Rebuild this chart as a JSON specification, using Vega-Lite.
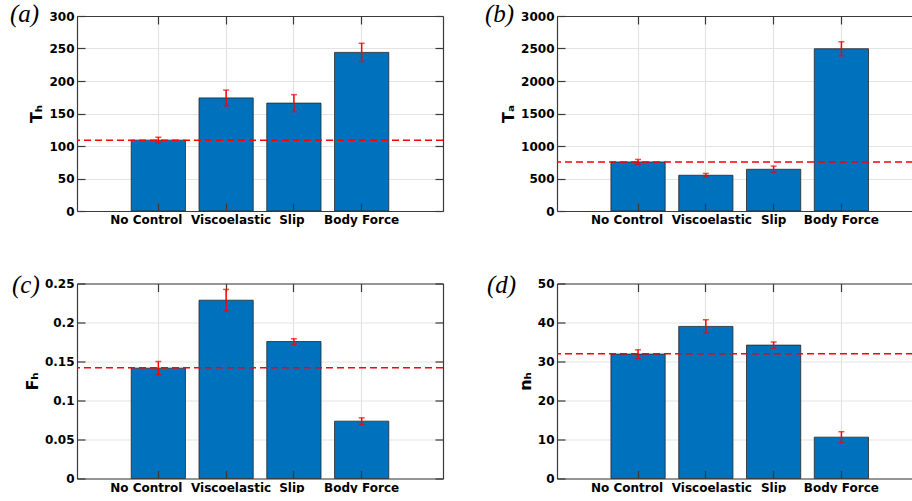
{
  "$schema": "https://vega.github.io/schema/vega-lite/v6.json",
  "background": "white",
  "padding": {"left": 10, "top": 2, "right": 0, "bottom": 0},
  "columns": 2,
  "spacing": {"column": 41, "row": 46.5},
  "config": {
    "view": {"stroke": null},
    "axis": {
      "domainColor": "#3a3a3a", "domainWidth": 1.2,
      "tickColor": "#3a3a3a", "tickWidth": 1.2, "tickSize": -8,
      "gridColor": "#e3e3e3", "gridWidth": 1.2,
      "labelFont": "DejaVu Sans", "labelFontWeight": "bold", "labelFontSize": 12, "labelColor": "#000000",
      "titleFont": "DejaVu Sans", "titleFontWeight": "bold", "titleFontSize": 16, "titleColor": "#000000"
    },
    "axisLeft": {"labelPadding": 11},
    "axisBottom": {"labelPadding": 11.5},
    "title": {"font": "Liberation Serif", "fontStyle": "italic", "fontWeight": "normal", "fontSize": 25, "color": "#000000", "anchor": "start", "frame": "group", "offset": 0, "dy": 21}
  },
  "concat": [
    {
      "width": 366, "height": 195,
      "title": {"text": "(a)", "dx": -67},
      "data": {"values": [
        {"cond": "No Control", "val": 109, "err": 4.5},
        {"cond": "Viscoelastic", "val": 174, "err": 12},
        {"cond": "Slip", "val": 166, "err": 13},
        {"cond": "Body Force", "val": 244, "err": 14}
      ]},
      "resolve": {"axis": {"x": "independent", "y": "independent"}},
      "layer": [
        {"mark": {"type": "bar", "color": "#0072BD", "stroke": "#262626", "strokeWidth": 0.8},
         "encoding": {
           "x": {"field": "cond", "type": "nominal", "sort": null,
                 "scale": {"domain": ["No Control", "Viscoelastic", "Slip", "Body Force"], "paddingInner": 0.2, "paddingOuter": 0.8},
                 "axis": {"orient": "bottom", "title": null, "grid": false, "labelAngle": 0, "zindex": 1, "bandPosition": 0.5,
                          "labelOffset": {"condition": [{"test": "datum.value === 'No Control'", "value": -12}, {"test": "datum.value === 'Viscoelastic'", "value": 5}, {"test": "datum.value === 'Slip'", "value": -2}], "value": 0}}},
           "y": {"field": "val", "type": "quantitative", "scale": {"domain": [0, 300], "nice": false},
                 "axis": {"orient": "left", "title": "Tₕ", "grid": true, "values": [0, 50, 100, 150, 200, 250, 300], "format": "~f", "zindex": 0}}
         }},
        {"data": {"values": [{"ref": 109}]},
         "mark": {"type": "rule", "color": "#ff0000", "strokeDash": [7, 4], "strokeWidth": 1.5},
         "encoding": {"y": {"field": "ref", "type": "quantitative", "axis": null}}},
        {"mark": {"type": "errorbar", "color": "#ff0000", "thickness": 1.5, "ticks": {"size": 6}},
         "encoding": {
           "x": {"field": "cond", "type": "nominal", "sort": null,
                 "scale": {"domain": ["No Control", "Viscoelastic", "Slip", "Body Force"], "paddingInner": 0.2, "paddingOuter": 0.8},
                 "axis": {"orient": "top", "labels": false, "title": null, "grid": true, "zindex": 0, "bandPosition": 0.5}},
           "y": {"field": "val", "type": "quantitative", "title": null,
                 "axis": {"orient": "right", "labels": false, "title": null, "grid": false, "values": [0, 50, 100, 150, 200, 250, 300]}},
           "yError": {"field": "err"}
         }}
      ]
    },
    {
      "width": 356, "height": 195,
      "title": {"text": "(b)", "dx": -72},
      "data": {"values": [
        {"cond": "No Control", "val": 755, "err": 38},
        {"cond": "Viscoelastic", "val": 550, "err": 28},
        {"cond": "Slip", "val": 642, "err": 48},
        {"cond": "Body Force", "val": 2496, "err": 108}
      ]},
      "resolve": {"axis": {"x": "independent", "y": "independent"}},
      "layer": [
        {"mark": {"type": "bar", "color": "#0072BD", "stroke": "#262626", "strokeWidth": 0.8},
         "encoding": {
           "x": {"field": "cond", "type": "nominal", "sort": null,
                 "scale": {"domain": ["No Control", "Viscoelastic", "Slip", "Body Force"], "paddingInner": 0.2, "paddingOuter": 0.726, "align": 0.548},
                 "axis": {"orient": "bottom", "title": null, "grid": false, "labelAngle": 0, "zindex": 1, "bandPosition": 0.5,
                          "labelOffset": {"condition": [{"test": "datum.value === 'No Control'", "value": -11}, {"test": "datum.value === 'Viscoelastic'", "value": 6}], "value": 0}}},
           "y": {"field": "val", "type": "quantitative", "scale": {"domain": [0, 3000], "nice": false},
                 "axis": {"orient": "left", "title": "Tₐ", "grid": true, "values": [0, 500, 1000, 1500, 2000, 2500, 3000], "format": "~f", "zindex": 0}}
         }},
        {"data": {"values": [{"ref": 755}]},
         "mark": {"type": "rule", "color": "#ff0000", "strokeDash": [7, 4], "strokeWidth": 1.5},
         "encoding": {"y": {"field": "ref", "type": "quantitative", "axis": null}}},
        {"mark": {"type": "errorbar", "color": "#ff0000", "thickness": 1.5, "ticks": {"size": 6}},
         "encoding": {
           "x": {"field": "cond", "type": "nominal", "sort": null,
                 "scale": {"domain": ["No Control", "Viscoelastic", "Slip", "Body Force"], "paddingInner": 0.2, "paddingOuter": 0.726, "align": 0.548},
                 "axis": {"orient": "top", "labels": false, "title": null, "grid": true, "zindex": 0, "bandPosition": 0.5}},
           "y": {"field": "val", "type": "quantitative", "title": null, "axis": null},
           "yError": {"field": "err"}
         }}
      ]
    },
    {
      "width": 366, "height": 195,
      "title": {"text": "(c)", "dx": -65, "dy": 24},
      "data": {"values": [
        {"cond": "No Control", "val": 0.1415, "err": 0.0085},
        {"cond": "Viscoelastic", "val": 0.2286, "err": 0.0138},
        {"cond": "Slip", "val": 0.1756, "err": 0.0036},
        {"cond": "Body Force", "val": 0.0735, "err": 0.0043}
      ]},
      "resolve": {"axis": {"x": "independent", "y": "independent"}},
      "layer": [
        {"mark": {"type": "bar", "color": "#0072BD", "stroke": "#262626", "strokeWidth": 0.8},
         "encoding": {
           "x": {"field": "cond", "type": "nominal", "sort": null,
                 "scale": {"domain": ["No Control", "Viscoelastic", "Slip", "Body Force"], "paddingInner": 0.2, "paddingOuter": 0.8},
                 "axis": {"orient": "bottom", "title": null, "grid": false, "labelAngle": 0, "zindex": 1, "bandPosition": 0.5,
                          "labelOffset": {"condition": [{"test": "datum.value === 'No Control'", "value": -12}, {"test": "datum.value === 'Viscoelastic'", "value": 5}, {"test": "datum.value === 'Slip'", "value": -2}], "value": 0}}},
           "y": {"field": "val", "type": "quantitative", "scale": {"domain": [0, 0.25], "nice": false},
                 "axis": {"orient": "left", "title": "Fₕ", "grid": true, "values": [0, 0.05, 0.1, 0.15, 0.2, 0.25], "format": "~f", "zindex": 0}}
         }},
        {"data": {"values": [{"ref": 0.1419}]},
         "mark": {"type": "rule", "color": "#ff0000", "strokeDash": [7, 4], "strokeWidth": 1.5},
         "encoding": {"y": {"field": "ref", "type": "quantitative", "axis": null}}},
        {"mark": {"type": "errorbar", "color": "#ff0000", "thickness": 1.5, "ticks": {"size": 6}},
         "encoding": {
           "x": {"field": "cond", "type": "nominal", "sort": null,
                 "scale": {"domain": ["No Control", "Viscoelastic", "Slip", "Body Force"], "paddingInner": 0.2, "paddingOuter": 0.8},
                 "axis": {"orient": "top", "labels": false, "title": null, "grid": true, "zindex": 0, "bandPosition": 0.5}},
           "y": {"field": "val", "type": "quantitative", "title": null,
                 "axis": {"orient": "right", "labels": false, "title": null, "grid": false, "values": [0, 0.05, 0.1, 0.15, 0.2, 0.25]}},
           "yError": {"field": "err"}
         }}
      ]
    },
    {
      "width": 356, "height": 195,
      "title": {"text": "(d)", "dx": -70, "dy": 24},
      "data": {"values": [
        {"cond": "No Control", "val": 31.9, "err": 1.1},
        {"cond": "Viscoelastic", "val": 39.0, "err": 1.7},
        {"cond": "Slip", "val": 34.2, "err": 0.8},
        {"cond": "Body Force", "val": 10.6, "err": 1.4}
      ]},
      "resolve": {"axis": {"x": "independent", "y": "independent"}},
      "layer": [
        {"mark": {"type": "bar", "color": "#0072BD", "stroke": "#262626", "strokeWidth": 0.8},
         "encoding": {
           "x": {"field": "cond", "type": "nominal", "sort": null,
                 "scale": {"domain": ["No Control", "Viscoelastic", "Slip", "Body Force"], "paddingInner": 0.2, "paddingOuter": 0.726, "align": 0.548},
                 "axis": {"orient": "bottom", "title": null, "grid": false, "labelAngle": 0, "zindex": 1, "bandPosition": 0.5,
                          "labelOffset": {"condition": [{"test": "datum.value === 'No Control'", "value": -11}, {"test": "datum.value === 'Viscoelastic'", "value": 6}], "value": 0}}},
           "y": {"field": "val", "type": "quantitative", "scale": {"domain": [0, 50], "nice": false},
                 "axis": {"orient": "left", "title": "nₕ", "grid": true, "values": [0, 10, 20, 30, 40, 50], "format": "~f", "zindex": 0}}
         }},
        {"data": {"values": [{"ref": 32}]},
         "mark": {"type": "rule", "color": "#ff0000", "strokeDash": [7, 4], "strokeWidth": 1.5},
         "encoding": {"y": {"field": "ref", "type": "quantitative", "axis": null}}},
        {"mark": {"type": "errorbar", "color": "#ff0000", "thickness": 1.5, "ticks": {"size": 6}},
         "encoding": {
           "x": {"field": "cond", "type": "nominal", "sort": null,
                 "scale": {"domain": ["No Control", "Viscoelastic", "Slip", "Body Force"], "paddingInner": 0.2, "paddingOuter": 0.726, "align": 0.548},
                 "axis": {"orient": "top", "labels": false, "title": null, "grid": true, "zindex": 0, "bandPosition": 0.5}},
           "y": {"field": "val", "type": "quantitative", "title": null, "axis": null},
           "yError": {"field": "err"}
         }}
      ]
    }
  ]
}
